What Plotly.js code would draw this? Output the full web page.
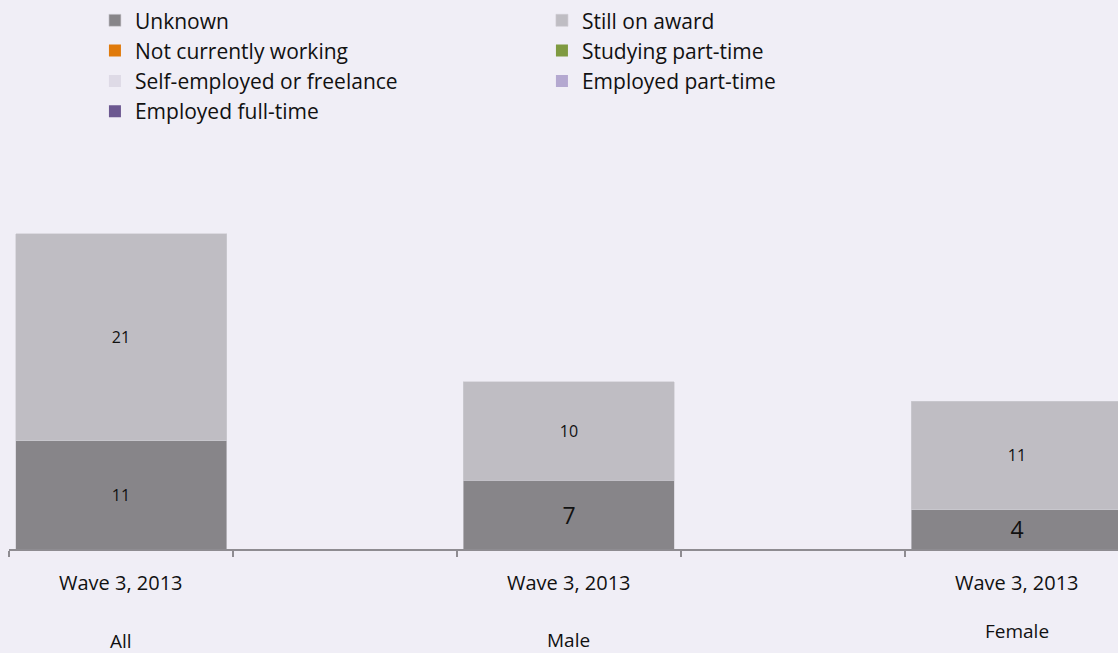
<!DOCTYPE html>
<html>
<head>
<meta charset="utf-8">
<script src="https://cdn.plot.ly/plotly-3.0.1.min.js"></script>
<style>
html,body{margin:0;padding:0;background:#F0EEF6;overflow:hidden;}
#chart{width:1118px;height:653px;}
</style>
</head>
<body>
<div id="chart"></div>
<script>
// Category slots (with blank slots between groups, as in the original)
var slots = [0, 2, 4];
var groups = ["All", "Male", "Female"];
var waves = ["Wave 3, 2013", "Wave 3, 2013", "Wave 3, 2013"];

// Series (bottom to top in the stack)
var seriesNames = ["Unknown", "Still on award", "Not currently working", "Studying part-time",
                   "Self-employed or freelance", "Employed part-time", "Employed full-time"];
var unknown = [11, 7, 4];
var stillOnAward = [21, 10, 11];
var notWorking = [0, 0, 0];
var studyingPT = [0, 0, 0];
var selfEmployed = [0, 0, 0];
var employedPT = [0, 0, 0];
var employedFT = [0, 0, 0];

var seriesValues = [unknown, stillOnAward, notWorking, studyingPT, selfEmployed, employedPT, employedFT];
var seriesColors = ["#878589", "#BFBDC3", "#E07A0B", "#7F9A41", "#DEDAE6", "#B4A8D0", "#6C5890"];
var labelSizes = {0: [16, 23, 23], 1: [16, 16, 16]};
var groupLabelY = [-0.234, -0.231, -0.208];

var font = "'Open Sans', Lato, sans-serif";

var traces = seriesValues.map(function (vals, i) {
  var t = {
    type: "bar",
    name: seriesNames[i],
    x: slots,
    y: vals,
    width: 0.942,
    marker: {color: seriesColors[i], line: {width: i < 2 ? 0.6 : 0, color: "#CFCDD3"}},
    hoverinfo: "name+y",
    textposition: "none"
  };
  if (labelSizes[i]) {
    t.text = vals.map(String);
    t.textposition = "inside";
    t.insidetextanchor = "middle";
    t.textfont = {family: font, color: "#111111", size: labelSizes[i]};
  }
  return t;
});

var annotations = [];
slots.forEach(function (s, i) {
  annotations.push({x: s, xref: "x", y: -0.084, yref: "paper", text: waves[i], showarrow: false,
    yanchor: "middle", font: {family: font, size: 20, color: "#111111"}});
  annotations.push({x: s, xref: "x", y: groupLabelY[i], yref: "paper", text: groups[i], showarrow: false,
    yanchor: "middle", font: {family: font, size: 19, color: "#111111"}});
});

var layout = {
  width: 1118, height: 653,
  paper_bgcolor: "#F0EEF6", plot_bgcolor: "#F0EEF6",
  margin: {l: 9, r: 0, t: 155, b: 104},
  barmode: "stack",
  showlegend: true,
  legend: {
    orientation: "h", traceorder: "normal",
    x: 0.0775, xanchor: "left", y: 1.393, yanchor: "top",
    entrywidth: 402, entrywidthmode: "pixels",
    font: {family: font, size: 21, color: "#111111"},
    bgcolor: "rgba(0,0,0,0)", tracegroupgap: 0
  },
  xaxis: {
    range: [-0.5, 4.451], fixedrange: true,
    tickmode: "array", tickvals: [-0.5, 0.5, 1.5, 2.5, 3.5, 4.5], ticktext: ["", "", "", "", "", ""],
    ticks: "outside", ticklen: 6, tickwidth: 1.5, tickcolor: "#8E8C91",
    showline: true, linecolor: "#8E8C91", linewidth: 1.5,
    showgrid: false, zeroline: false
  },
  yaxis: {range: [0, 40], visible: false, showgrid: false, zeroline: false, fixedrange: true},
  annotations: annotations,
  font: {family: font}
};

Plotly.newPlot("chart", traces, layout, {displayModeBar: false, staticPlot: true});
</script>
</body>
</html>
